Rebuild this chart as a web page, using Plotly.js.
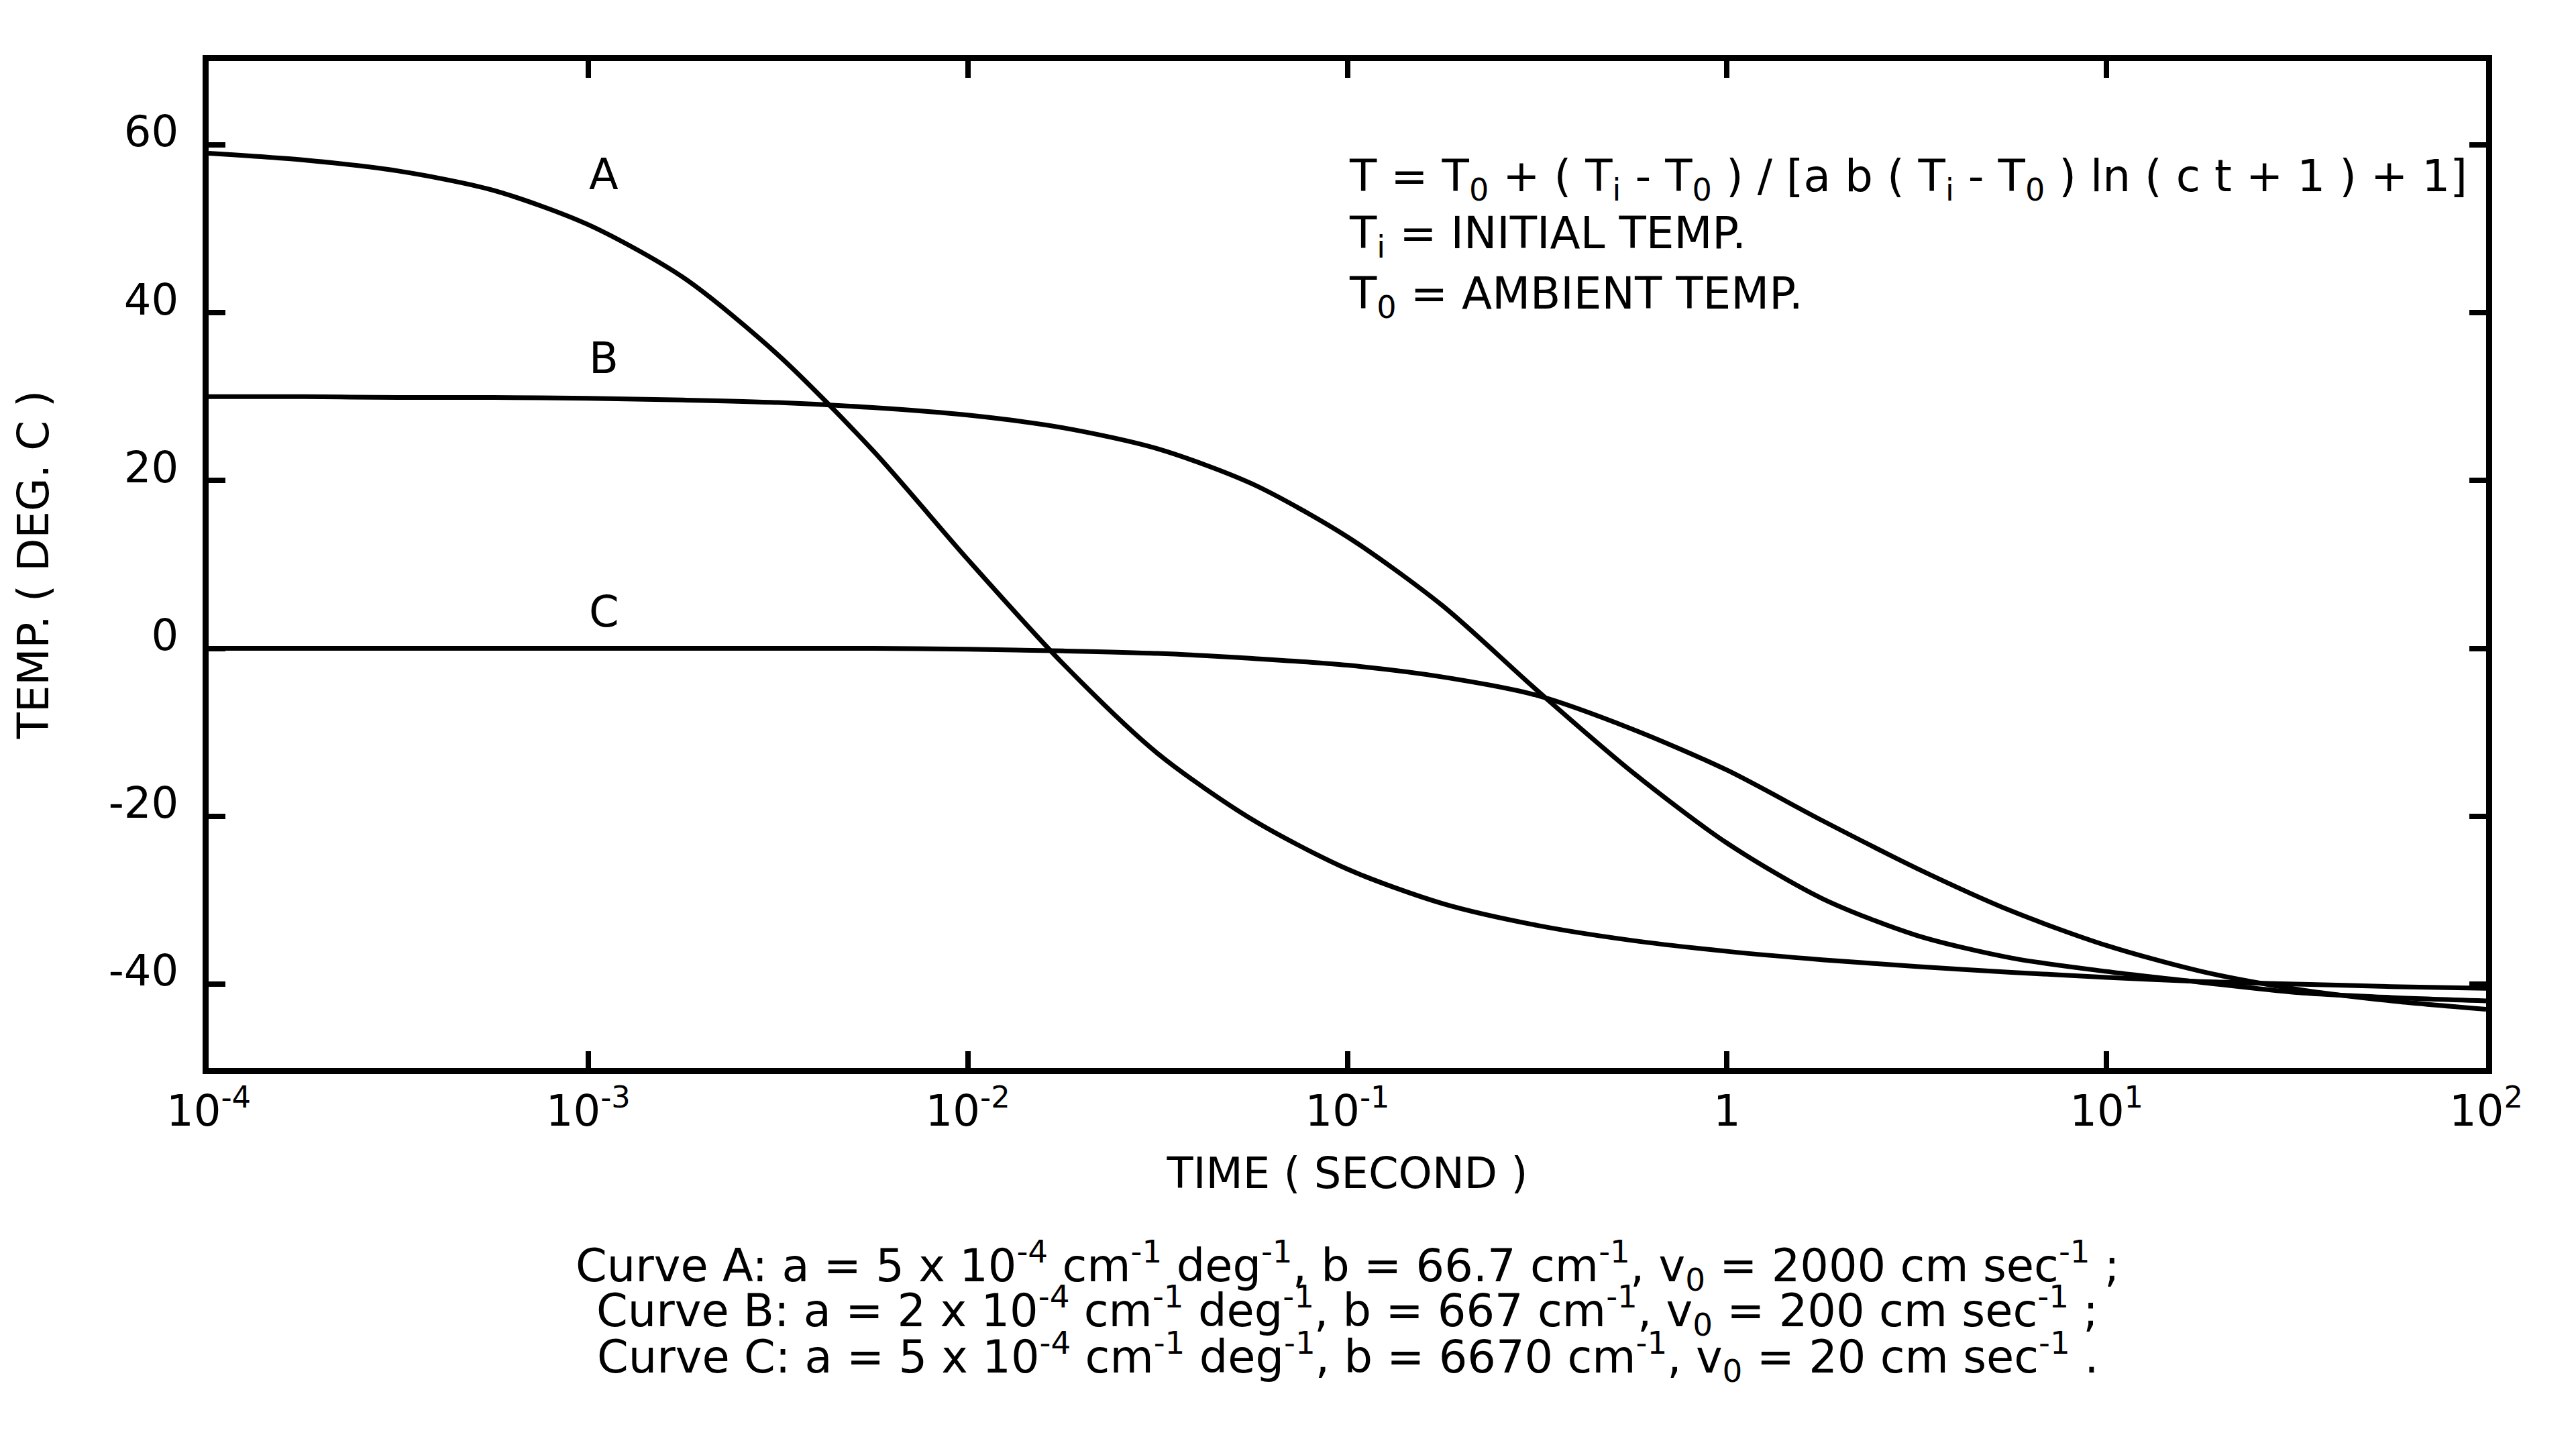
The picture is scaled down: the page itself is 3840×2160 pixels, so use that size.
<!DOCTYPE html>
<html>
<head>
<meta charset="utf-8">
<script src="https://cdn.plot.ly/plotly-3.0.1.min.js"></script>
<style>
  html, body { margin: 0; padding: 0; background: #ffffff; }
  #chart { width: 3840px; height: 2160px; }
</style>
</head>
<body>
<div id="chart"></div>
<script>
// ---- data ----
const timeSec = [1e-4, 1.78e-4, 3.16e-4, 5.62e-4, 1e-3, 1.78e-3, 3.16e-3, 5.62e-3,
                 1e-2, 1.78e-2, 3.16e-2, 5.62e-2, 0.1, 0.178, 0.316, 0.562,
                 1, 1.78, 3.16, 5.62, 10, 17.8, 31.6, 56.2, 100];

const curveA = [59.0, 58.2, 56.9, 54.6, 50.5, 44.2, 35.0, 23.6,
                10.6, -1.8, -12.5, -20.4, -26.3, -30.4, -33.0, -34.8,
                -36.1, -37.1, -37.9, -38.6, -39.2, -39.7, -40.0, -40.3, -40.5];

const curveB = [30.0, 30.0, 29.9, 29.9, 29.8, 29.6, 29.3, 28.7,
                27.8, 26.3, 23.8, 19.6, 13.3, 5.1, -5.0, -14.7,
                -23.2, -29.8, -34.2, -36.9, -38.5, -39.8, -41.0, -41.6, -42.0];

const curveC = [0.0, 0.0, 0.0, 0.0, 0.0, 0.0, 0.0, 0.0,
                -0.1, -0.3, -0.6, -1.2, -2.0, -3.4, -5.6, -9.6,
                -14.5, -20.5, -26.2, -31.3, -35.4, -38.5, -40.6, -42.0, -43.0];

const curveNames = ["A", "B", "C"];
const curveLabelTime = [1.1e-3, 1.1e-3, 1.1e-3];
const curveLabelTemp = [56.5, 34.6, 4.4];

const xTickVals = [1e-4, 1e-3, 1e-2, 1e-1, 1, 10, 100];
const xTickText = ["10<sup>-4</sup>", "10<sup>-3</sup>", "10<sup>-2</sup>", "10<sup>-1</sup>",
                   "1", "10<sup>1</sup>", "10<sup>2</sup>"];
const yTickVals = [-40, -20, 0, 20, 40, 60];
const yTickText = ["-40", "-20", "0", "20", "40", "60"];

const xTitle = "TIME ( SECOND )";
const yTitle = "TEMP. ( DEG. C )";

const formulaLines = [
  "T = T<sub>0</sub> + ( T<sub>i</sub> - T<sub>0</sub> ) / [a b ( T<sub>i</sub> - T<sub>0</sub> ) ln ( c t + 1 ) + 1]",
  "T<sub>i</sub> = INITIAL TEMP.",
  "T<sub>0</sub> = AMBIENT TEMP."
];

const captionLines = [
  "Curve A: a = 5 x 10<sup>-4</sup> cm<sup>-1</sup> deg<sup>-1</sup>, b = 66.7 cm<sup>-1</sup>, v<sub>0</sub> = 2000 cm sec<sup>-1</sup> ;",
  "Curve B: a = 2 x 10<sup>-4</sup> cm<sup>-1</sup> deg<sup>-1</sup>, b = 667 cm<sup>-1</sup>, v<sub>0</sub> = 200 cm sec<sup>-1</sup> ;",
  "Curve C: a = 5 x 10<sup>-4</sup> cm<sup>-1</sup> deg<sup>-1</sup>, b = 6670 cm<sup>-1</sup>, v<sub>0</sub> = 20 cm sec<sup>-1</sup> ."
];

// ---- styling ----
const FONT = "DejaVu Sans";
const FS = 64;
const FS_FORMULA = 66;
const FS_CAPTION = 67;
const series = [curveA, curveB, curveC];

const traces = series.map((ys, i) => ({
  type: "scatter",
  mode: "lines",
  name: "Curve " + curveNames[i],
  x: timeSec,
  y: ys,
  line: { color: "#000000", width: 7, shape: "spline", smoothing: 0.8 },
  hoverinfo: "x+y+name"
}));

const annotations = [];
curveNames.forEach((n, i) => {
  annotations.push({
    xref: "x", yref: "y",
    x: Math.log10(curveLabelTime[i]), y: curveLabelTemp[i],
    text: n, showarrow: false,
    xanchor: "center", yanchor: "middle",
    font: { family: FONT, size: FS, color: "#000" }
  });
});

const formulaY = [0.883, 0.826, 0.766];
formulaLines.forEach((t, i) => {
  annotations.push({
    xref: "paper", yref: "paper",
    x: 0.5, y: formulaY[i],
    text: t, showarrow: false,
    xanchor: "left", yanchor: "middle",
    font: { family: FONT, size: FS_FORMULA, color: "#000" }
  });
});

const captionY = [-0.196, -0.241, -0.287];
captionLines.forEach((t, i) => {
  annotations.push({
    xref: "paper", yref: "paper",
    x: 0.5, y: captionY[i],
    text: t, showarrow: false,
    xanchor: "center", yanchor: "middle",
    font: { family: FONT, size: FS_CAPTION, color: "#000" }
  });
});

const layout = {
  width: 3840, height: 2160,
  paper_bgcolor: "#ffffff",
  plot_bgcolor: "#ffffff",
  showlegend: false,
  margin: { l: 311, r: 134, t: 91, b: 568, pad: 0 },
  font: { family: FONT, size: FS, color: "#000" },
  xaxis: {
    type: "log",
    range: [-4, 2],
    tickvals: xTickVals,
    ticktext: xTickText,
    ticks: "inside",
    ticklen: 25,
    tickwidth: 8,
    tickcolor: "#000",
    showline: true,
    linewidth: 9,
    linecolor: "#000",
    mirror: "ticks",
    showgrid: false,
    zeroline: false,
    tickfont: { family: FONT, size: FS, color: "#000" },
    title: { text: xTitle, font: { family: FONT, size: FS, color: "#000" }, standoff: 38 },
    automargin: false
  },
  yaxis: {
    range: [-50, 70],
    tickvals: yTickVals,
    ticktext: yTickText,
    ticks: "inside",
    ticklen: 25,
    tickwidth: 8,
    tickcolor: "#000",
    showline: true,
    linewidth: 9,
    linecolor: "#000",
    mirror: "ticks",
    showgrid: false,
    zeroline: false,
    ticklabelshift: -20,
    ticklabelstandoff: 23,
    tickfont: { family: FONT, size: FS, color: "#000" },
    title: { text: yTitle, font: { family: FONT, size: FS, color: "#000" }, standoff: 72 },
    automargin: false
  },
  annotations: annotations
};

Plotly.newPlot("chart", traces, layout, { displayModeBar: false, staticPlot: true });
</script>
</body>
</html>
